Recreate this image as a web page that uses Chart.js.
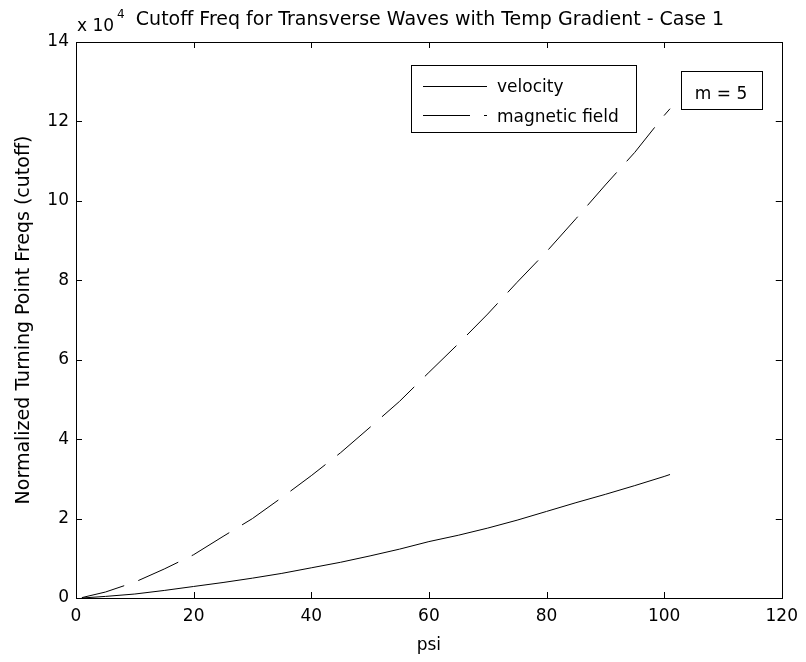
<!DOCTYPE html>
<html>
<head>
<meta charset="utf-8">
<script src="https://cdn.jsdelivr.net/npm/chart.js@4/dist/chart.umd.min.js"></script>
<style>
  html, body { margin: 0; padding: 0; background: #fff; }
  #wrap { width: 806px; height: 662px; position: relative; }
</style>
</head>
<body>
<div id="wrap"><canvas id="c" width="806" height="662"></canvas></div>
<script>
// ---- data ----
const psi = [1, 5, 10, 15, 20, 25, 30, 35, 40, 45, 50, 55, 60, 65, 70, 75, 80, 85, 90, 95, 100, 101];
const velocity = [0, 400, 1000, 1900, 2900, 3900, 5000, 6200, 7600, 9000, 10600, 12300, 14200, 15800, 17600, 19600, 21800, 24000, 26100, 28300, 30600, 31100];
const magneticField = [100, 1500, 4000, 7300, 10900, 15500, 20000, 25300, 30800, 36600, 43000, 49500, 56800, 64000, 71500, 79500, 87200, 95500, 104000, 112200, 121500, 123200];
const xTicks = [0, 20, 40, 60, 80, 100, 120];
const yTicks = [0, 20000, 40000, 60000, 80000, 100000, 120000, 140000];
const seriesNames = ['velocity', 'magnetic field'];
const titleText = 'Cutoff Freq for Transverse Waves with Temp Gradient - Case 1';
const xLabel = 'psi';
const yLabel = 'Normalized Turning Point Freqs (cutoff)';
const annotationText = 'm = 5';

const FONT = '"DejaVu Sans", Verdana, sans-serif';

const toPts = (xs, ys) => xs.map((x, i) => ({ x: x, y: ys[i] }));

const decor = {
  id: 'decor',
  afterDraw(chart) {
    const ctx = chart.ctx;
    const a = chart.chartArea;
    const xs = chart.scales.x, ys = chart.scales.y;
    ctx.save();
    // axes box
    ctx.strokeStyle = '#000';
    ctx.lineWidth = 1;
    ctx.setLineDash([]);
    ctx.strokeRect(Math.round(a.left) + 0.5, Math.round(a.top) + 0.5, Math.round(a.right - a.left), Math.round(a.bottom - a.top));
    // inward ticks on all four sides
    const tl = 6;
    ctx.beginPath();
    xTicks.forEach(v => {
      const px = Math.round(xs.getPixelForValue(v)) + 0.5;
      ctx.moveTo(px, a.bottom); ctx.lineTo(px, a.bottom - tl);
      ctx.moveTo(px, a.top); ctx.lineTo(px, a.top + tl);
    });
    yTicks.forEach(v => {
      const py = Math.round(ys.getPixelForValue(v)) + 0.5;
      ctx.moveTo(a.left, py); ctx.lineTo(a.left + tl, py);
      ctx.moveTo(a.right, py); ctx.lineTo(a.right - tl, py);
    });
    ctx.stroke();

    ctx.fillStyle = '#000';
    // title
    ctx.font = '19px ' + FONT;
    ctx.textAlign = 'center';
    ctx.textBaseline = 'alphabetic';
    ctx.fillText(titleText, 430, 25);
    // x 10^4 exponent label
    ctx.font = '17px ' + FONT;
    ctx.textAlign = 'left';
    ctx.fillText('x 10', 77, 31);
    const w = ctx.measureText('x 10').width;
    ctx.font = '12px ' + FONT;
    ctx.fillText('4', 77 + w + 3, 18);

    // legend box
    ctx.fillStyle = '#fff';
    ctx.fillRect(411.5, 65.5, 225, 67);
    ctx.strokeRect(411.5, 65.5, 225, 67);
    ctx.fillStyle = '#000';
    ctx.beginPath();
    ctx.moveTo(423, 86.5); ctx.lineTo(487, 86.5);
    ctx.stroke();
    ctx.setLineDash([47, 14, 3, 100]);
    ctx.beginPath();
    ctx.moveTo(423, 115.5); ctx.lineTo(487, 115.5);
    ctx.stroke();
    ctx.setLineDash([]);
    ctx.font = '17px ' + FONT;
    ctx.textBaseline = 'alphabetic';
    ctx.textAlign = 'left';
    ctx.fillText(seriesNames[0], 497, 92);
    ctx.fillText(seriesNames[1], 497, 122);

    // annotation box
    ctx.fillStyle = '#fff';
    ctx.fillRect(681.5, 71.5, 81, 38);
    ctx.strokeRect(681.5, 71.5, 81, 38);
    ctx.fillStyle = '#000';
    ctx.textAlign = 'center';
    ctx.fillText(annotationText, 721, 99);
    ctx.restore();
  }
};

new Chart(document.getElementById('c'), {
  type: 'line',
  data: {
    datasets: [
      { label: seriesNames[0], data: toPts(psi, velocity), borderColor: '#000', borderWidth: 1, pointRadius: 0, tension: 0, fill: false },
      { label: seriesNames[1], data: toPts(psi, magneticField), borderColor: '#000', borderWidth: 1, borderDash: [44, 15], pointRadius: 0, tension: 0, fill: false }
    ]
  },
  options: {
    responsive: false,
    animation: false,
    devicePixelRatio: 1,
    layout: { padding: { left: 0, right: 24, top: 42, bottom: 0 } },
    plugins: { legend: { display: false }, tooltip: { enabled: false }, title: { display: false } },
    scales: {
      x: {
        type: 'linear', min: 0, max: 120,
        afterFit(s) { s.height = 64; },
        afterBuildTicks(s) { s.ticks = xTicks.map(v => ({ value: v })); },
        grid: { display: false, drawTicks: false },
        border: { display: false },
        ticks: { color: '#000', font: { size: 17, family: FONT }, padding: 8, maxRotation: 0 },
        title: { display: true, text: xLabel, color: '#000', font: { size: 17, family: FONT }, padding: { top: 0, bottom: 6 } }
      },
      y: {
        type: 'linear', min: 0, max: 140000,
        afterFit(s) { s.width = 76; },
        afterBuildTicks(s) { s.ticks = yTicks.map(v => ({ value: v })); },
        grid: { display: false, drawTicks: false },
        border: { display: false },
        ticks: { color: '#000', font: { size: 17, family: FONT }, padding: 7, callback: v => String(v / 10000) },
        title: { display: true, text: yLabel, color: '#000', font: { size: 19, family: FONT }, padding: { top: 13, bottom: 0 } }
      }
    }
  },
  plugins: [decor]
});
</script>
</body>
</html>
